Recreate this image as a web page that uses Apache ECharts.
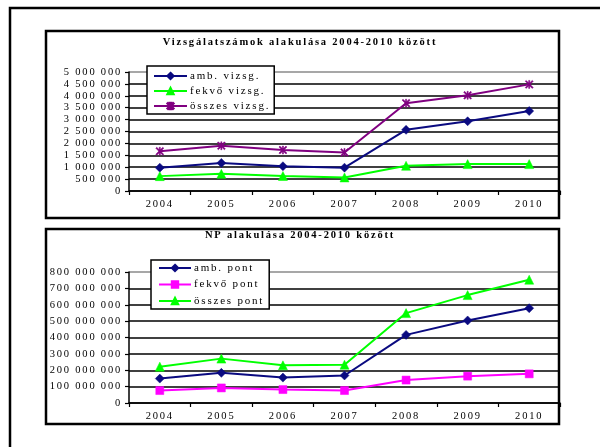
<!DOCTYPE html>
<html>
<head>
<meta charset="utf-8">
<script src="https://cdn.jsdelivr.net/npm/echarts@6/dist/echarts.min.js"></script>
<style>
html,body{margin:0;padding:0;background:#fff;}
#c{width:600px;height:447px;}
</style>
</head>
<body>
<div id="c"></div>
<script>
// ---- data ----
const years = ['2004', '2005', '2006', '2007', '2008', '2009', '2010'];
const ambVizsg    = [980000, 1180000, 1040000, 980000, 2570000, 2930000, 3360000];
const fekvoVizsg  = [625000, 720000, 630000, 570000, 1060000, 1130000, 1130000];
const osszesVizsg = [1670000, 1900000, 1720000, 1620000, 3690000, 4020000, 4480000];
const ambPont     = [149000000, 184000000, 155000000, 168000000, 416000000, 504000000, 579000000];
const fekvoPont   = [76000000, 92000000, 82000000, 76000000, 140000000, 164000000, 178000000];
const osszesPont  = [222000000, 271000000, 230000000, 234000000, 549000000, 659000000, 753000000];
const title1 = 'Vizsgálatszámok alakulása 2004-2010 között';
const title2 = 'NP alakulása 2004-2010 között';
const names1 = ['amb. vizsg.', 'fekvő vizsg.', 'összes vizsg.'];
const names2 = ['amb. pont', 'fekvő pont', 'összes pont'];

// spaced lettering like the reference (not applied to the line-height probe glyph)
(function(){
  const p = CanvasRenderingContext2D.prototype;
  const f = p.fillText, m = p.measureText;
  p.fillText = function(){ try{ this.letterSpacing = '1.8px'; }catch(e){} return f.apply(this, arguments); };
  p.measureText = function(t){
    try{ this.letterSpacing = (t === '国') ? '0px' : '1.8px'; }catch(e){}
    return m.apply(this, arguments);
  };
})();

const FONT = 'Liberation Serif';
const NAVY = '#0a0a80', GREEN = '#00ff00', PURPLE = '#800080', MAGENTA = '#ff00ff';
const STAR = 'path://M0,1.2L1.2,0L10,8.8L8.8,10Z M8.8,0L10,1.2L1.2,10L0,8.8Z M4.3,0L5.7,0L5.7,10L4.3,10Z';

const fmt = v => String(v).replace(/\B(?=(\d{3})+(?!\d))/g, ' ');

function gridLines(n){ const a = []; for(let i=0;i<n;i++) a.push('#000'); a.push('#8a8a8a'); return a; }

function xAxis(idx){
  return {
    type: 'category', gridIndex: idx, data: years, boundaryGap: true,
    axisLine: {lineStyle: {color: '#000', width: 1.5}},
    axisTick: {show: true, length: 4, lineStyle: {color: '#000', width: 1.2}},
    axisLabel: {color: '#000', fontFamily: FONT, fontSize: 10.5, margin: 8},
    splitLine: {show: false}
  };
}
function yAxis(idx, max, step, n){
  return {
    type: 'value', gridIndex: idx, min: 0, max: max, interval: step,
    axisLine: {show: true, lineStyle: {color: '#000', width: 1.5}},
    axisTick: {show: true, length: 4, lineStyle: {color: '#000', width: 1.2}},
    axisLabel: {color: '#000', fontFamily: FONT, fontSize: 10.5, lineHeight: 10, margin: 7,
                formatter: fmt, showMinLabel: true, showMaxLabel: true, hideOverlap: false},
    splitLine: {show: true, lineStyle: {color: gridLines(n), width: 1.6}}
  };
}
function line(name, data, color, symbol, size, xi){
  return {
    type: 'line', name: name, data: data, xAxisIndex: xi, yAxisIndex: xi,
    symbol: symbol, symbolSize: size, showSymbol: true,
    lineStyle: {color: color, width: 2},
    itemStyle: {color: color, borderColor: color, borderWidth: 0.5},
    emphasis: {disabled: true}, silent: true, z: 5
  };
}
function legend(names, left, top, iw, gap, pad){
  return {
    data: names, left: left, top: top, orient: 'vertical', selectedMode: false,
    itemWidth: iw, itemHeight: 8, itemGap: gap, padding: pad,
    backgroundColor: '#fff', borderColor: '#000', borderWidth: 1.5, borderRadius: 0,
    textStyle: {color: '#000', fontFamily: FONT, fontSize: 11, lineHeight: 12, padding: [0,0,0,-2]}
  };
}

const chart = echarts.init(document.getElementById('c'), null, {renderer: 'canvas'});
chart.setOption({
  animation: false,
  backgroundColor: '#fff',
  title: [
    {text: title1, left: 'center', top: 37, padding: 0,
     textStyle: {color: '#000', fontFamily: FONT, fontSize: 10.5, fontWeight: 'bold'}},
    {text: title2, left: 'center', top: 230, padding: 0,
     textStyle: {color: '#000', fontFamily: FONT, fontSize: 10.5, fontWeight: 'bold'}}
  ],
  grid: [
    {left: 129, top: 72, width: 431, height: 119},
    {left: 129, top: 272, width: 431, height: 131}
  ],
  xAxis: [xAxis(0), xAxis(1)],
  yAxis: [yAxis(0, 5000000, 500000, 10), yAxis(1, 800000000, 100000000, 8)],
  legend: [
    legend(names1, 147, 66, 33, 3, [4, 4, 2, 6]),
    legend(names2, 151, 260, 32, 4.5, [2, 5, 2, 7])
  ],
  graphic: [
    {type: 'rect', silent: true, z: 100, shape: {x: 10, y: 8, width: 640, height: 480},
     style: {fill: 'none', stroke: '#000', lineWidth: 2.5}},
    {type: 'rect', silent: true, z: 100, shape: {x: 46, y: 31, width: 513, height: 187},
     style: {fill: 'none', stroke: '#000', lineWidth: 2.5}},
    {type: 'rect', silent: true, z: 100, shape: {x: 46, y: 229, width: 513, height: 195},
     style: {fill: 'none', stroke: '#000', lineWidth: 2.5}}
  ],
  series: [
    line(names1[0], ambVizsg, NAVY, 'diamond', 9, 0),
    line(names1[1], fekvoVizsg, GREEN, 'triangle', 9, 0),
    line(names1[2], osszesVizsg, PURPLE, STAR, 8, 0),
    line(names2[0], ambPont, NAVY, 'diamond', 9, 1),
    line(names2[1], fekvoPont, MAGENTA, 'rect', 8, 1),
    line(names2[2], osszesPont, GREEN, 'triangle', 9, 1)
  ]
});
</script>
</body>
</html>
